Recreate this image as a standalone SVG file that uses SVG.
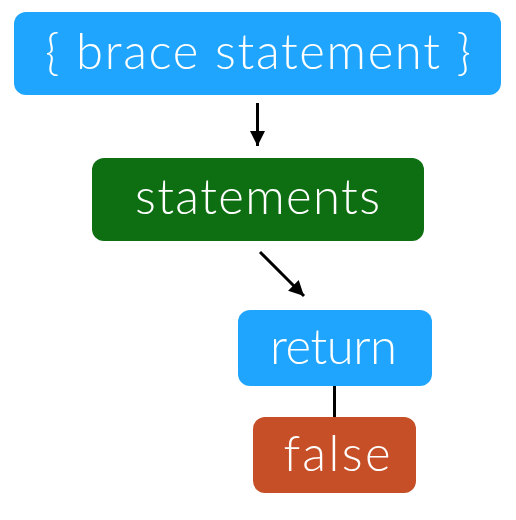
<svg xmlns="http://www.w3.org/2000/svg" width="516" height="520" viewBox="0 0 516 520">
<defs>
<style>
text{font-family:Lato,"Open Sans","DejaVu Sans",sans-serif;font-size:49px;font-weight:300;fill:#fff;text-anchor:middle}
.c{stroke:#000;stroke-width:3;fill:none}
</style>
<marker id="ah" markerWidth="5" markerHeight="5" refX="5" refY="2.5" orient="auto" markerUnits="strokeWidth"><path d="M0,0 L5,2.5 L0,5 z" fill="#000"/></marker>
</defs>
<rect width="516" height="520" fill="#fff"/>
<g id="connectors">
<line class="c" x1="257.5" y1="103" x2="257.5" y2="146" marker-end="url(#ah)"/>
<line class="c" x1="260" y1="252" x2="304" y2="296" marker-end="url(#ah)"/>
<line class="c" x1="334.5" y1="386" x2="334.5" y2="417"/>
</g>
<g id="brace">
<rect x="14" y="12" width="487" height="83" rx="12" fill="#1fa5fd"/>
<text x="258" y="69" textLength="426" lengthAdjust="spacing">{ brace statement }</text>
</g>
<g id="statements">
<rect x="92" y="158" width="332" height="83" rx="12" fill="#0e6e12"/>
<text x="257.5" y="214" textLength="245" lengthAdjust="spacing">statements</text>
</g>
<g id="return">
<rect x="238" y="310" width="194" height="76" rx="12" fill="#1fa5fd"/>
<text x="333.5" y="364" textLength="127" lengthAdjust="spacing">return</text>
</g>
<g id="false">
<rect x="253" y="417" width="163" height="76" rx="12" fill="#c64f27"/>
<text x="337" y="471" textLength="107" lengthAdjust="spacing">false</text>
</g>
</svg>
